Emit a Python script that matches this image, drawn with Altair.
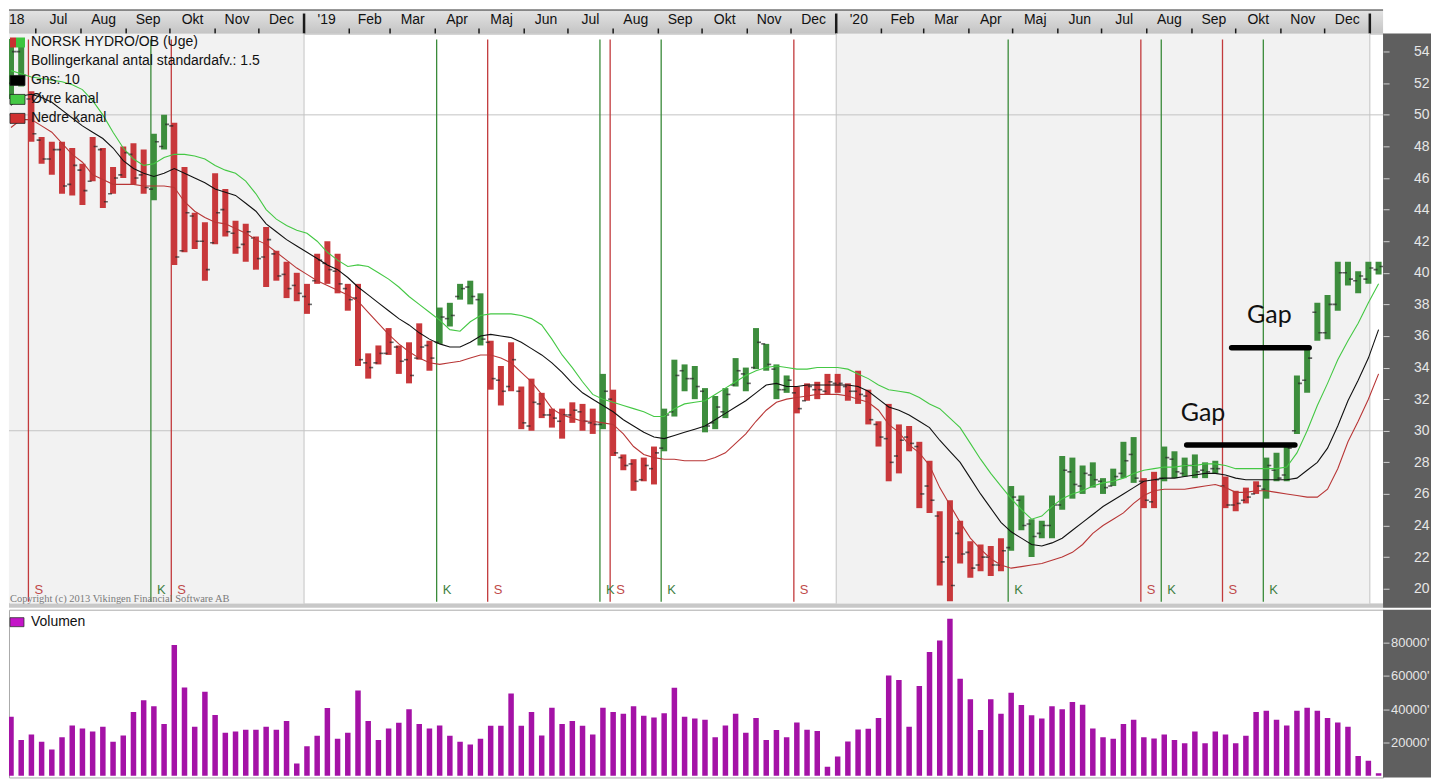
import altair as alt
import pandas as pd

# ---------------- data ----------------
START = "2018-06-14"          # date of the first weekly bar
high = [54.8, 54.5, 51.5, 48.6, 48.3, 48.3, 47.9, 46.9, 48.6, 47.9, 46.7, 48.0, 48.2, 47.8, 48.8, 50.0,
        49.5, 46.7, 43.8, 43.2, 46.3, 45.3, 43.3, 43.1, 42.3, 42.9, 41.4, 40.7, 40.0, 39.3, 41.2, 42.0,
        41.2, 39.3, 39.3, 34.9, 35.4, 36.5, 35.4, 35.6, 36.8, 35.7, 37.8, 38.1, 39.3, 39.5, 38.7, 35.7,
        34.1, 35.6, 32.8, 33.3, 32.4, 31.4, 31.4, 31.8, 31.7, 31.4, 33.6, 32.6, 28.5, 28.2, 28.3, 29.0,
        31.4, 34.5, 34.2, 34.1, 32.7, 32.2, 32.7, 34.6, 34.0, 36.5, 35.5, 34.2, 33.5, 32.8, 33.0, 33.1,
        33.6, 33.6, 33.0, 33.8, 32.6, 30.6, 31.7, 30.4, 30.3, 29.3, 28.1, 24.9, 25.6, 24.3, 23.0, 22.8,
        22.7, 23.2, 26.5, 25.9, 24.4, 24.3, 25.9, 28.4, 28.3, 27.8, 28.0, 27.0, 27.6, 29.3, 29.6, 27.0,
        27.4, 29.0, 28.7, 28.3, 28.5, 28.0, 28.1, 27.1, 26.2, 26.4, 26.8, 28.3, 28.6, 29.0, 33.5, 35.3,
        38.1, 38.6, 40.7, 40.7, 40.1, 40.7, 40.7]
low = [51.0, 51.8, 48.3, 46.9, 46.2, 45.0, 44.9, 44.3, 45.8, 44.1, 45.0, 46.0, 45.6, 45.0, 44.6, 47.8,
       40.5, 41.3, 41.5, 39.5, 41.8, 42.3, 41.2, 40.7, 40.2, 39.1, 39.5, 38.4, 38.2, 37.4, 39.3, 39.3,
       38.7, 37.6, 34.1, 33.3, 34.2, 34.8, 33.6, 33.0, 34.5, 33.8, 35.5, 36.6, 38.3, 38.0, 35.4, 32.6,
       31.6, 32.5, 30.1, 30.0, 30.8, 30.2, 29.5, 30.5, 30.0, 29.8, 30.1, 28.4, 27.5, 26.2, 26.8, 26.6,
       28.7, 30.9, 32.5, 32.0, 29.9, 30.1, 30.8, 32.8, 32.5, 33.9, 33.8, 32.0, 32.4, 31.1, 31.9, 32.0,
       32.3, 32.4, 31.9, 31.7, 30.4, 29.0, 26.8, 27.3, 28.7, 25.1, 24.8, 20.2, 19.2, 21.6, 20.7, 21.1,
       20.8, 21.1, 22.4, 23.7, 22.0, 23.2, 23.2, 25.0, 25.7, 26.0, 26.4, 26.0, 26.5, 27.0, 26.7, 25.1,
       25.1, 26.8, 27.0, 27.1, 27.0, 27.0, 27.3, 25.1, 24.9, 25.4, 26.0, 25.7, 26.8, 26.8, 29.8, 32.4,
       35.7, 35.8, 37.6, 39.2, 38.7, 39.3, 39.9]
opens = [52.0, 54.0, 51.0, 48.4, 47.2, 47.8, 45.6, 46.5, 45.8, 47.8, 45.0, 46.2, 47.5, 46.2, 45.3, 48.0,
         49.3, 41.4, 43.6, 42.0, 41.9, 44.0, 42.5, 41.8, 42.2, 41.0, 41.2, 39.9, 39.2, 38.5, 39.5, 40.6,
         40.1, 39.0, 38.4, 34.3, 34.3, 34.9, 35.3, 34.5, 34.6, 35.4, 35.6, 37.1, 38.5, 39.1, 38.3, 35.6,
         33.2, 32.8, 32.5, 30.3, 31.7, 31.0, 30.6, 31.0, 31.2, 30.5, 30.4, 32.0, 28.3, 27.9, 26.9, 27.6,
         28.9, 31.2, 33.8, 33.3, 32.5, 30.5, 31.2, 32.9, 33.6, 34.0, 35.5, 33.9, 32.6, 32.4, 31.9, 32.6,
         32.5, 33.0, 32.8, 32.5, 32.2, 30.4, 29.5, 28.4, 29.6, 29.0, 26.5, 24.6, 22.0, 23.5, 22.3, 21.5,
         22.0, 21.5, 22.6, 25.6, 24.1, 23.5, 24.0, 25.3, 27.4, 26.5, 27.2, 26.8, 26.5, 27.3, 28.5, 26.8,
         25.5, 27.0, 28.2, 27.3, 27.8, 27.5, 27.6, 26.5, 25.3, 25.6, 26.0, 26.3, 27.5, 27.2, 30.0, 33.2,
         37.5, 36.2, 38.0, 40.0, 39.5, 39.6, 40.2]
closes = [54.0, 52.5, 48.8, 47.2, 47.8, 45.5, 46.8, 45.2, 48.0, 44.5, 46.0, 47.6, 46.0, 45.4, 48.3, 49.4,
          41.0, 43.8, 42.0, 40.2, 43.8, 42.6, 41.6, 42.6, 40.9, 42.1, 39.8, 39.0, 38.7, 38.0, 40.8, 40.2,
          39.3, 38.3, 34.5, 34.0, 34.9, 35.6, 34.4, 33.5, 35.3, 34.6, 37.2, 37.3, 39.0, 38.5, 35.8, 33.3,
          32.5, 34.5, 30.5, 31.8, 31.0, 30.8, 31.0, 31.3, 30.6, 30.4, 32.5, 28.6, 27.8, 26.8, 27.8, 28.6,
          31.0, 33.5, 33.3, 32.8, 30.3, 31.5, 32.3, 33.8, 33.0, 35.6, 34.2, 32.6, 33.2, 31.4, 32.8, 32.6,
          33.1, 33.0, 32.5, 32.3, 30.7, 29.6, 28.0, 29.4, 29.2, 26.0, 25.6, 21.7, 20.2, 22.2, 21.3, 22.0,
          21.5, 22.4, 25.8, 24.0, 23.3, 24.0, 25.3, 27.5, 26.6, 27.3, 26.9, 26.4, 27.1, 28.1, 27.0, 25.6,
          26.9, 28.3, 27.4, 27.8, 27.4, 27.4, 27.6, 25.3, 25.4, 25.8, 26.5, 27.8, 27.0, 28.9, 33.0, 34.6,
          36.2, 38.0, 40.0, 39.6, 39.8, 40.3, 40.4]
upper = [52.8, 52.6, 52.4, 52.3, 52.2, 52.1, 51.9, 51.6, 50.9, 50.0, 48.9, 47.9, 47.2, 46.8, 46.9, 47.3,
         47.5, 47.5, 47.4, 47.2, 46.8, 46.5, 46.3, 45.8, 45.0, 44.0, 43.4, 43.0, 42.7, 42.5, 42.0, 41.3,
         40.8, 40.4, 40.5, 40.4, 40.0, 39.6, 39.1, 38.5, 38.0, 37.5, 37.0, 36.4, 36.3, 36.9, 37.3, 37.4,
         37.4, 37.4, 37.3, 37.1, 36.7, 35.8, 34.8, 34.0, 33.1, 32.3, 32.0, 31.8, 31.6, 31.4, 31.2, 30.9,
         30.9, 31.4, 31.7, 31.8, 31.9, 32.3, 32.7, 33.1, 33.5, 33.8, 34.0, 34.1, 34.0, 33.9, 33.9, 34.0,
         34.0, 34.0, 33.9, 33.6, 33.3, 32.9, 32.6, 32.5, 32.4, 32.1, 31.7, 31.4, 30.8, 30.2, 29.2, 28.2,
         27.3, 26.5, 25.7, 25.0, 24.4, 24.6, 25.2, 25.7, 26.0, 26.2, 26.5, 26.7, 26.8, 27.0, 27.3, 27.5,
         27.6, 27.7, 27.7, 27.8, 27.8, 27.9, 27.9, 27.8, 27.6, 27.6, 27.6, 27.6, 27.6, 27.7, 28.6, 30.0,
         31.6, 33.0, 34.5, 35.7, 36.8, 38.1, 39.3]
middle = [50.6, 51.2, 51.3, 51.1, 50.8, 50.3, 49.8, 49.3, 48.9, 48.5, 47.9, 47.1, 46.6, 46.3, 46.1, 46.3,
          46.6, 46.3, 46.0, 45.7, 45.3, 45.1, 44.9, 44.4, 43.9, 43.1, 42.6, 42.1, 41.7, 41.3, 40.9, 40.5,
          40.2, 39.7, 39.1, 38.6, 38.1, 37.6, 37.1, 36.7, 36.2, 35.8, 35.5, 35.3, 35.3, 35.6, 36.0, 36.1,
          36.0, 35.9, 35.6, 35.2, 34.8, 34.3, 33.7, 33.0, 32.4, 32.0, 31.6, 31.2, 30.7, 30.3, 29.9, 29.6,
          29.5, 29.7, 29.9, 30.1, 30.3, 30.7, 31.1, 31.5, 31.9, 32.4, 32.9, 33.0, 32.8, 32.8, 32.9, 32.9,
          32.9, 32.9, 32.9, 32.8, 32.5, 32.0, 31.5, 31.3, 31.0, 30.6, 30.2, 29.4, 28.7, 28.0, 27.0, 26.0,
          25.1, 24.2, 23.6, 23.2, 22.8, 22.7, 22.9, 23.2, 23.7, 24.2, 24.7, 25.2, 25.6, 26.0, 26.4, 26.8,
          26.9, 27.0, 27.0, 27.1, 27.2, 27.3, 27.3, 27.2, 27.0, 26.9, 26.9, 26.9, 26.9, 26.9, 27.0, 27.5,
          28.0, 28.9, 30.3, 31.9, 33.2, 34.6, 36.4]
lower = [49.2, 49.7, 49.7, 49.3, 48.9, 48.2, 47.5, 47.0, 46.2, 45.9, 45.6, 45.6, 45.6, 45.5, 45.5, 45.5,
         45.4, 44.5, 43.9, 43.5, 43.2, 43.1, 42.8, 42.5, 42.1, 41.8, 41.3, 40.8, 40.3, 39.9, 39.5, 39.2,
         38.9, 38.6, 38.2, 37.5, 36.8, 36.1, 35.5, 35.0, 34.6, 34.3, 34.2, 34.3, 34.4, 34.6, 34.8, 34.8,
         34.6, 34.3, 33.7, 33.1, 32.3, 31.4, 31.0, 30.8, 30.6, 30.6, 30.5, 30.4, 29.8, 29.0, 28.5, 28.3,
         28.2, 28.2, 28.1, 28.1, 28.1, 28.3, 28.6, 29.2, 29.8, 30.6, 31.3, 31.8, 32.0, 32.1, 32.2, 32.3,
         32.3, 32.3, 32.2, 32.0, 31.8, 31.3, 30.4, 29.9, 29.1, 28.6, 27.8, 26.4, 25.3, 24.2, 23.2, 22.5,
         21.9, 21.5, 21.3, 21.4, 21.5, 21.6, 21.8, 22.0, 22.3, 22.8, 23.5, 24.0, 24.4, 24.8, 25.4, 25.9,
         26.2, 26.3, 26.3, 26.3, 26.4, 26.5, 26.6, 26.4, 26.1, 26.1, 26.2, 26.2, 26.1, 26.0, 25.9, 25.8,
         25.8, 26.3, 27.6, 29.3, 30.6, 32.0, 33.6]
volume = [35500, 21500, 24800, 20400, 15800, 23200, 30200, 28400, 26600, 29400, 20400, 24200, 38300,
          45300, 41700, 31100, 78500, 53100, 29400, 50500, 36500, 25800, 26600, 27600, 27600, 29400,
          27600, 32900, 7400, 17800, 24000, 40700, 22200, 25800, 51300, 32900, 21500, 28400, 31900,
          39900, 31100, 28400, 30200, 24000, 20400, 18800, 22200, 30000, 30000, 49500, 30000, 38300,
          24200, 40900, 31100, 32900, 30000, 24800, 40900, 38300, 37300, 41700, 36000, 35000, 37500,
          52900, 35500, 34400, 33700, 23200, 30200, 37300, 25800, 34700, 21500, 27500, 23200, 32000,
          27600, 26900, 5400, 11600, 20600, 27800, 28200, 34700, 60300, 57500, 29400, 53900, 74300,
          81300, 94400, 58300, 45900, 27500, 45900, 37300, 49900, 42500, 36300, 34400, 41700, 39900,
          44300, 42700, 28400, 23200, 22200, 31100, 33700, 23200, 22400, 24800, 21500, 19600, 26600,
          19600, 26600, 24800, 19600, 24000, 38300, 39100, 33700, 30200, 39100, 40900, 39100, 34700,
          32000, 29400, 11800, 9000, 1500]

signal_week = [2, 14, 16, 42, 47, 58, 59, 64, 77, 98, 111, 113, 119, 123]
signal_type = ["S", "K", "S", "K", "S", "K", "S", "K", "S", "K", "S", "K", "S", "K"]

month_labels = ["18", "Jul", "Aug", "Sep", "Okt", "Nov", "Dec",
                "'19", "Feb", "Mar", "Apr", "Maj", "Jun", "Jul", "Aug", "Sep", "Okt", "Nov", "Dec",
                "'20", "Feb", "Mar", "Apr", "Maj", "Jun", "Jul", "Aug", "Sep", "Okt", "Nov", "Dec"]
first_month = "2018-06-01"
year_starts = ["2019-01-01", "2020-01-01", "2021-01-01"]
shade_from = ["2018-01-01", "2020-01-01"]
shade_to = ["2019-01-01", "2021-01-01"]
grid_levels = [30, 50]
price_ticks = list(range(20, 56, 2))
volume_ticks = [20000, 40000, 60000, 80000]

gap_from_week = [115.2, 119.6]
gap_to_week = [125.8, 127.2]
gap_level = [29.1, 35.25]
gap_text_week = [116.8, 123.3]
gap_text_level = [31.1, 37.3]

legend_labels = ["NORSK HYDRO/OB (Uge)", "Bollingerkanal antal standardafv.: 1.5",
                 "Gns: 10", "Øvre kanal", "Nedre kanal"]
copyright_text = "Copyright (c) 2013 Vikingen Financial Software AB"

# ---------------- helpers ----------------
EPOCH = pd.Timestamp("1970-01-01")
T0 = pd.Timestamp(START)


def ms(ts):
    return int((pd.Timestamp(ts) - EPOCH) / pd.Timedelta(milliseconds=1))


def week_ms(i):
    return ms(T0 + pd.Timedelta(days=7 * i))


N = len(high)
W = 1376
BH = 24
PH = 571
GAP = 4
VH = 168
PANEL = 48

RED, GREEN = "#c8383b", "#3d8d3d"
state = GREEN
colors = []
sig = dict(zip(signal_week, signal_type))
for i in range(N):
    if i in sig:
        state = GREEN if sig[i] == "K" else RED
    colors.append(state)

df = pd.DataFrame({
    "t": [week_ms(i) for i in range(N)],
    "high": high, "low": low, "open": opens, "close": closes,
    "upper": upper, "mid": middle, "lower": lower,
    "vol": volume, "col": colors,
})
sig_df = pd.DataFrame({
    "t": [week_ms(i) for i in signal_week],
    "typ": signal_type,
    "col": ["#c23a3c" if s == "S" else "#3a8a3a" for s in signal_type],
    "tcol": ["#c04a4a" if s == "S" else "#3f7f3f" for s in signal_type],
})

ms_list = pd.date_range(first_month, periods=len(month_labels) + 1, freq="MS")
mids = [ms_list[k] + (ms_list[k + 1] - ms_list[k]) / 2 for k in range(len(month_labels))]
# the first month is only partly inside the chart: its label sits at the left edge
mids[0] = max(mids[0], T0 + pd.Timedelta(days=4))
mon_df = pd.DataFrame({"tm": [ms(m) for m in mids], "label": month_labels})
tick_df = pd.DataFrame({"ts": [ms(m) for m in ms_list[1:] if m.month != 1]})
year_df = pd.DataFrame({"ts": [ms(y) for y in year_starts]})
shade_df = pd.DataFrame({"t0": [ms(a) for a in shade_from], "t1": [ms(b) for b in shade_to]})
grid_df = pd.DataFrame({"p": grid_levels})
gap_df = pd.DataFrame({"t0": [week_ms(a) for a in gap_from_week],
                       "t1": [week_ms(b) for b in gap_to_week], "p": gap_level})
gap_txt = pd.DataFrame({"t": [week_ms(a) for a in gap_text_week], "p": gap_text_level,
                        "txt": ["Gap", "Gap"]})

xscale = alt.Scale(domain=[week_ms(-0.196), week_ms(134.44)], padding=0)
X = alt.X("t:T", scale=xscale, axis=None)
one = alt.Data(values=[{}])

# ---------------- month band (drawn above the price panel) ----------------
grad = alt.LinearGradient(gradient="linear",
                          stops=[alt.GradientStop(color="#e4e4e4", offset=0),
                                 alt.GradientStop(color="#c4c4c4", offset=1)],
                          x1=0, x2=0, y1=0, y2=1)
band_bg = alt.Chart(one).mark_rect(color=grad).encode(
    x=alt.value(0), x2=alt.value(W), y=alt.value(-BH), y2=alt.value(0))
band_top = alt.Chart(one).mark_rule(color="#333333", strokeWidth=1).encode(
    x=alt.value(0), x2=alt.value(W), y=alt.value(-BH + 0.5))
band_ticks = alt.Chart(tick_df).mark_rule(color="#1a1a1a", strokeWidth=1.5).encode(
    x=alt.X("ts:T", scale=xscale, axis=None), y=alt.value(-5), y2=alt.value(0))
band_years = alt.Chart(year_df).mark_rule(color="#1a1a1a", strokeWidth=2.5).encode(
    x=alt.X("ts:T", scale=xscale, axis=None), y=alt.value(-BH + 4), y2=alt.value(0))
band_text = alt.Chart(mon_df).mark_text(fontSize=14, color="#111", baseline="middle").encode(
    x=alt.X("tm:T", scale=xscale, axis=None), y=alt.value(-BH + 10), text="label:N")

# ---------------- price panel ----------------
YP = alt.Scale(domain=[19.05, 55.15], nice=False, zero=False, padding=0)
price_axis = alt.Axis(orient="right", values=price_ticks, domain=False, grid=False,
                      tickColor="#d0d0d0", tickSize=6, labelColor="#e6e6e6", labelFontSize=14,
                      labelAlign="right", labelBaseline="middle", labelPadding=40, zindex=1,
                      title=None)

shade = alt.Chart(shade_df).mark_rect(color="#f2f2f2", clip=True).encode(
    x=alt.X("t0:T", scale=xscale, axis=None), x2="t1:T", y=alt.value(0), y2=alt.value(PH))
vgrid = alt.Chart(year_df).mark_rule(color="#c4c4c4").encode(
    x=alt.X("ts:T", scale=xscale, axis=None), y=alt.value(0), y2=alt.value(PH))
hgrid = alt.Chart(grid_df).mark_rule(color="#c4c4c4").encode(
    y=alt.Y("p:Q", scale=YP, axis=price_axis), x=alt.value(0), x2=alt.value(W))
sig_rules = alt.Chart(sig_df).mark_rule(strokeWidth=1.3, xOffset=-3).encode(
    x=X, y=alt.value(6), y2=alt.value(PH - 2), color=alt.Color("col:N", scale=None))
sig_text = alt.Chart(sig_df).mark_text(align="left", baseline="middle", dx=3, fontSize=13).encode(
    x=X, y=alt.value(PH - 14), text="typ:N", color=alt.Color("tcol:N", scale=None))

bars = alt.Chart(df).mark_bar(size=6, clip=True).encode(
    x=X, y=alt.Y("low:Q", scale=YP, axis=price_axis), y2="high:Q",
    color=alt.Color("col:N", scale=None))
open_t = alt.Chart(df).mark_tick(orient="horizontal", size=4, thickness=1.6, xOffset=-3,
                                 color="#262626", clip=True).encode(
    x=X, y=alt.Y("open:Q", scale=YP, axis=price_axis))
close_t = alt.Chart(df).mark_tick(orient="horizontal", size=4, thickness=1.6, xOffset=3,
                                  color="#262626", clip=True).encode(
    x=X, y=alt.Y("close:Q", scale=YP, axis=price_axis))

l_up = alt.Chart(df).mark_line(color="#44c844", strokeWidth=1.1, clip=True).encode(
    x=X, y=alt.Y("upper:Q", scale=YP, axis=price_axis))
l_mid = alt.Chart(df).mark_line(color="#111111", strokeWidth=1.1, clip=True).encode(
    x=X, y=alt.Y("mid:Q", scale=YP, axis=price_axis))
l_low = alt.Chart(df).mark_line(color="#b83636", strokeWidth=1.1, clip=True).encode(
    x=X, y=alt.Y("lower:Q", scale=YP, axis=price_axis))

gap_lines = alt.Chart(gap_df).mark_rule(color="#000", strokeWidth=5.5, strokeCap="round").encode(
    x=alt.X("t0:T", scale=xscale, axis=None), x2="t1:T", y=alt.Y("p:Q", scale=YP, axis=price_axis))
gap_labels = alt.Chart(gap_txt).mark_text(fontSize=25, font="Lato", color="#111",
                                          baseline="middle").encode(
    x=X, y=alt.Y("p:Q", scale=YP, axis=price_axis), text="txt:N")

legend_layers = []
icon_cols = [None, None, "#000000", "#44c844", "#d03030"]
for k, lab in enumerate(legend_labels):
    yc = 9 + 19 * k
    legend_layers.append(alt.Chart(one).mark_text(
        align="left", baseline="middle", fontSize=14, color="#111", text=lab).encode(
        x=alt.value(22), y=alt.value(yc)))
    if k == 0:
        legend_layers.append(alt.Chart(one).mark_rect(color="#c83030").encode(
            x=alt.value(1), x2=alt.value(7), y=alt.value(yc - 5), y2=alt.value(yc + 5)))
        legend_layers.append(alt.Chart(one).mark_rect(color="#3ec43e").encode(
            x=alt.value(7), x2=alt.value(16), y=alt.value(yc - 5), y2=alt.value(yc + 5)))
    elif icon_cols[k]:
        legend_layers.append(alt.Chart(one).mark_rect(
            color=icon_cols[k], stroke="#222", strokeWidth=0.8).encode(
            x=alt.value(1), x2=alt.value(16), y=alt.value(yc - 5), y2=alt.value(yc + 5)))

copyright = alt.Chart(one).mark_text(
    align="left", baseline="middle", fontSize=10.5, font="Liberation Serif", color="#7a7a7a",
    text=copyright_text).encode(x=alt.value(1), y=alt.value(PH - 5))

# dark axis panel; it also reaches down over the small gap between the two panels
panel_p = alt.Chart(one).mark_rect(color="#5f5f5f").encode(
    x=alt.value(W), x2=alt.value(W + PANEL), y=alt.value(0), y2=alt.value(PH + GAP))
sep = alt.Chart(one).mark_rect(color="#c8c8c8").encode(
    x=alt.value(0), x2=alt.value(W), y=alt.value(PH), y2=alt.value(PH + GAP))

price = alt.layer(
    band_bg, band_top, band_ticks, band_years, band_text,
    shade, vgrid, hgrid, sig_rules, bars, open_t, close_t, l_up, l_mid, l_low,
    sig_text, copyright, gap_lines, gap_labels, *legend_layers, sep, panel_p
).properties(width=W, height=PH)

# ---------------- volume panel ----------------
YV = alt.Scale(domain=[-1020, 99780], nice=False, zero=False, padding=0)
vol_axis = alt.Axis(orient="right", values=volume_ticks, domain=False, grid=False,
                    tickColor="#d0d0d0", tickSize=6, labelColor="#e6e6e6", labelFontSize=13,
                    labelAlign="right", labelBaseline="middle", labelPadding=40, zindex=1,
                    title=None, labelExpr="format(datum.value, 'd') + \"'\"")
vbars = alt.Chart(df).mark_bar(size=5.5, color="#a412a6", clip=True).encode(
    x=X, y=alt.Y("vol:Q", scale=YV, axis=vol_axis), y2=alt.datum(0))
v_icon = alt.Chart(one).mark_rect(color="#c414c8", stroke="#333", strokeWidth=0.8).encode(
    x=alt.value(1), x2=alt.value(15), y=alt.value(8), y2=alt.value(17))
v_text = alt.Chart(one).mark_text(align="left", baseline="middle", fontSize=14, color="#111",
                                  text="Volumen").encode(x=alt.value(22), y=alt.value(12))
panel_v = alt.Chart(one).mark_rect(color="#5f5f5f").encode(
    x=alt.value(W), x2=alt.value(W + PANEL), y=alt.value(0), y2=alt.value(VH))
vol = alt.layer(vbars, v_icon, v_text, panel_v).properties(width=W, height=VH)

chart = alt.vconcat(price, vol, spacing=0).resolve_scale(y="independent").properties(
    padding=0
).configure(font="Liberation Sans", background="white").configure_view(stroke="#aaaaaa")

chart.save("out.html", embed_options={"renderer": "svg", "actions": False})
